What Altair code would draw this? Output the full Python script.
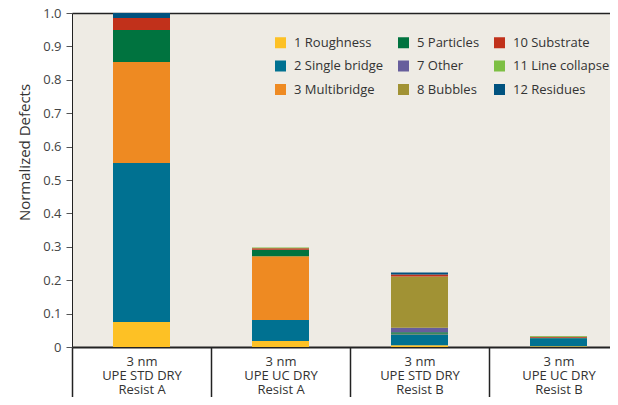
import altair as alt
import pandas as pd

categories = ["3 nm|UPE STD DRY|Resist A", "3 nm|UPE UC DRY|Resist A",
              "3 nm|UPE STD DRY|Resist B", "3 nm|UPE UC DRY|Resist B"]
defect_nums = [1, 2, 3, 5, 7, 8, 10, 11, 12]
defect_labels = ["1 Roughness", "2 Single bridge", "3 Multibridge", "5 Particles",
                 "7 Other", "8 Bubbles", "10 Substrate", "11 Line collapse", "12 Residues"]
defect_colors = ["#FDC125", "#007191", "#EE8A22", "#00733F",
                 "#675E9C", "#A19234", "#C1311B", "#7DBF43", "#00527F"]

vals_std_a = [0.075, 0.476, 0.302, 0.096, 0.0, 0.0, 0.036, 0.0, 0.015]
vals_uc_a = [0.018, 0.063, 0.191, 0.019, 0.0, 0.0, 0.005, 0.002, 0.0]
vals_std_b = [0.005, 0.033, 0.002, 0.004, 0.014, 0.153, 0.006, 0.0, 0.006]
vals_uc_b = [0.002, 0.024, 0.0, 0.002, 0.0, 0.0, 0.003, 0.002, 0.0]

rows = []
for cat, vals in zip(categories, [vals_std_a, vals_uc_a, vals_std_b, vals_uc_b]):
    for n, lab, v in zip(defect_nums, defect_labels, vals):
        rows.append({"cat": cat, "num": n, "defect": lab, "value": v})
df = pd.DataFrame(rows)

FONT = "Open Sans"

chart = alt.Chart(df).mark_bar(size=57).encode(
    x=alt.X("cat:N", sort=categories,
            scale=alt.Scale(paddingInner=0, paddingOuter=0, range=[0, 556]),
            axis=alt.Axis(title=None, labelAngle=0,
                          labelExpr="split(datum.label, '|')",
                          tickBand="extent", tickSize=60, tickColor="#222",
                          tickWidth=1.5, labelPadding=-52,
                          domainWidth=2, domainColor="#222",
                          labelLineHeight=14, labelFontSize=13,
                          labelColor="#333", labelFont=FONT)),
    y=alt.Y("value:Q", stack="zero",
            scale=alt.Scale(domain=[0, 1], nice=False),
            axis=alt.Axis(title="Normalized Defects",
                          values=[0, 0.1, 0.2, 0.3, 0.4, 0.5, 0.6, 0.7, 0.8, 0.9, 1.0],
                          labelExpr="datum.value == 0 ? '0' : format(datum.value, '.1f')",
                          grid=True, gridColor="#222", gridWidth=1.5,
                          gridOpacity={"condition": {"test": "datum.value == 1", "value": 1},
                                       "value": 0},
                          tickSize=6, tickColor="#555",
                          domainColor="#222", domainWidth=1,
                          labelPadding=5, labelFontSize=13, labelColor="#444",
                          labelFont=FONT, titleFont=FONT, titleFontSize=15,
                          titleFontWeight="normal", titleColor="#333",
                          titleX=-48, titleY=139, titleBaseline="middle",
                          titleAlign="center")),
    color=alt.Color("defect:N",
                    scale=alt.Scale(domain=defect_labels, range=defect_colors),
                    legend=alt.Legend(title=None, orient="none", legendX=202,
                                      legendY=23, columns=3, columnPadding=13,
                                      rowPadding=9.5, symbolType="square",
                                      symbolSize=121, symbolStrokeWidth=0,
                                      labelFont=FONT, labelFontSize=13,
                                      labelColor="#333", labelOffset=7,
                                      padding=0)),
    order=alt.Order("num:Q", sort="ascending"),
).properties(
    width=538, height=334,
    autosize="none",
    padding={"left": 64, "top": 5, "right": 0, "bottom": 50},
    background="white",
).configure_view(
    fill="#EEEBE4", stroke=None
)

chart.save("out.html", embed_options={"renderer": "svg", "actions": False})
